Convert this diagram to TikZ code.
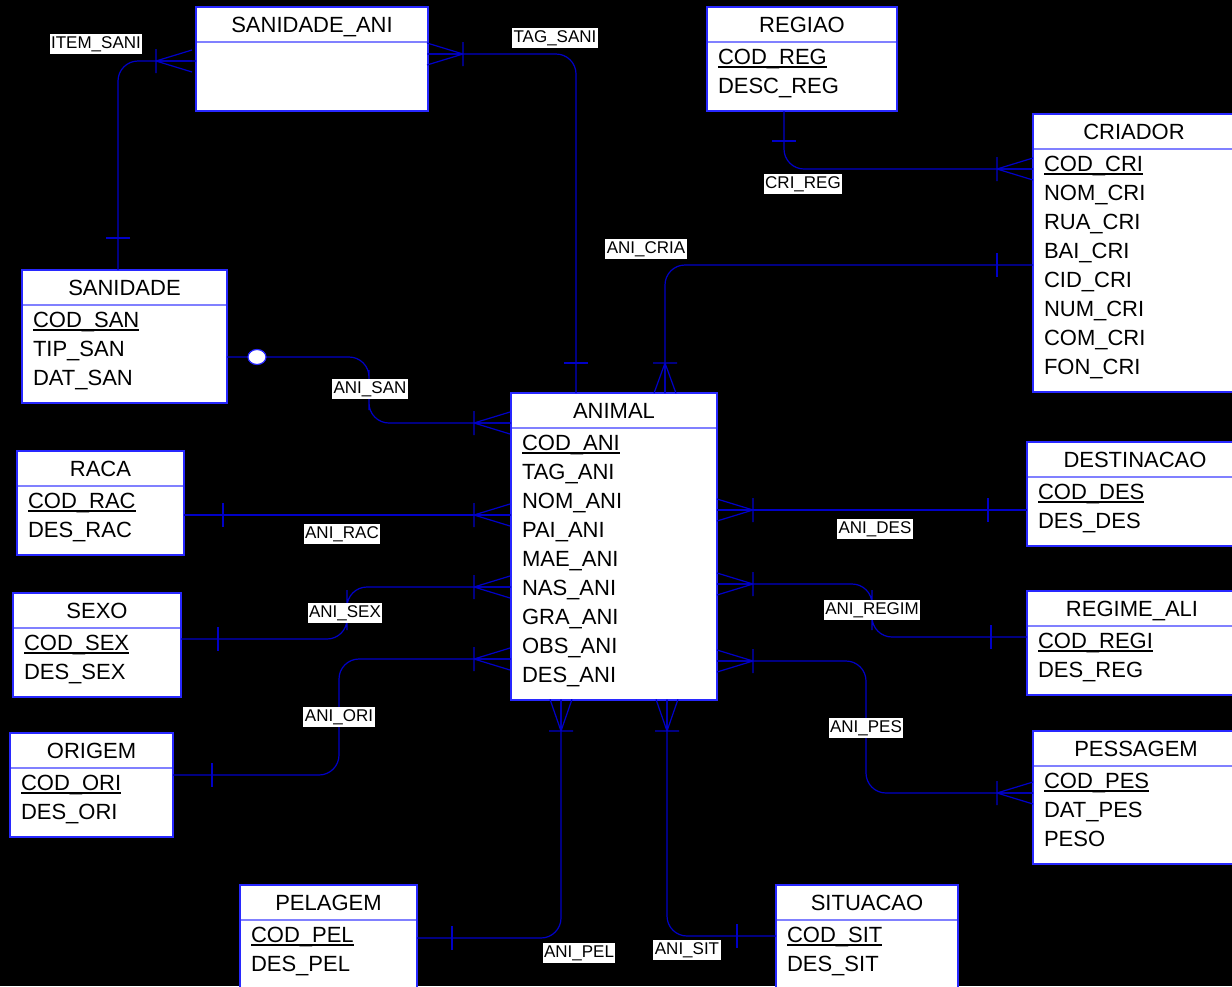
\documentclass[tikz,border=0pt]{standalone}
\usepackage{fontspec}
\setmainfont{Liberation Sans}
\usetikzlibrary{positioning}
\definecolor{erblue}{RGB}{40,40,255}
\definecolor{sepblue}{RGB}{128,128,255}
\definecolor{linkblue}{RGB}{0,0,200}
\newcommand\pkey[1]{\rule{0pt}{22pt}\setbox0\hbox{#1}\rlap{\rule[-4pt]{\wd0}{2.2pt}}\box0}
\newcommand\lastattr[1]{#1\rule[-18pt]{0pt}{18pt}}
\tikzset{
  crowfoot/.pic={\draw[link] (0,0) -- (36,-11) (0,0) -- (36,0) (0,0) -- (36,11) (0,-12) -- (0,12);},
  onebar/.pic={\draw[link] (0,-12) -- (0,12);}
}

\begin{document}
\begin{tikzpicture}[x=1pt, y=-1pt,
  every node/.style={font=\fontsize{22}{29}\selectfont},
  enthead/.style={rectangle, draw=erblue, fill=white, line width=1.6pt, outer sep=0pt,
                  inner sep=0pt, text height=16pt, text depth=0pt, minimum height=35pt, anchor=north west},
  entbody/.style={rectangle, draw=erblue, fill=white, line width=1.6pt, outer sep=0pt,
                  inner xsep=11pt, inner ysep=0pt, align=left},
  relname/.style={fill=white, text=black, font=\fontsize{17}{20}\selectfont,
                  inner xsep=1.5pt, inner ysep=2pt, text height=12pt, text depth=4pt},
  link/.style={draw=linkblue, line width=1.2pt, rounded corners=20pt},
  sepline/.style={draw=sepblue, line width=1.6pt}
]
  \path[use as bounding box, fill=black] (0,0) rectangle (1232,986);
  \clip (0,0) rectangle (1232,986);

  % entities
  \node[enthead, minimum width=232pt] (sanidadeani) at (196,7) {SANIDADE\_ANI};
  \node[entbody, text width=210pt, minimum height=69pt, below=0pt of sanidadeani] (sanidadeani-b) {};
  \node[enthead, minimum width=190pt] (regiao) at (707,7) {REGIAO};
  \node[entbody, text width=168pt, below=0pt of regiao] (regiao-b) {\pkey{COD\_REG}\\\lastattr{DESC\_REG}};
  \node[enthead, minimum width=202pt] (criador) at (1033,114) {CRIADOR};
  \node[entbody, text width=180pt, below=0pt of criador] (criador-b)
    {\pkey{COD\_CRI}\\NOM\_CRI\\RUA\_CRI\\BAI\_CRI\\CID\_CRI\\NUM\_CRI\\COM\_CRI\\\lastattr{FON\_CRI}};
  \node[enthead, minimum width=205pt] (sanidade) at (22,270) {SANIDADE};
  \node[entbody, text width=183pt, below=0pt of sanidade] (sanidade-b) {\pkey{COD\_SAN}\\TIP\_SAN\\\lastattr{DAT\_SAN}};
  \node[enthead, minimum width=206pt] (animal) at (511,393) {ANIMAL};
  \node[entbody, text width=184pt, below=0pt of animal] (animal-b)
    {\pkey{COD\_ANI}\\TAG\_ANI\\NOM\_ANI\\PAI\_ANI\\MAE\_ANI\\NAS\_ANI\\GRA\_ANI\\OBS\_ANI\\\lastattr{DES\_ANI}};
  \node[enthead, minimum width=167pt] (raca) at (17,451) {RACA};
  \node[entbody, text width=145pt, below=0pt of raca] (raca-b) {\pkey{COD\_RAC}\\\lastattr{DES\_RAC}};
  \node[enthead, minimum width=216pt] (destinacao) at (1027,442) {DESTINACAO};
  \node[entbody, text width=194pt, below=0pt of destinacao] (destinacao-b) {\pkey{COD\_DES}\\\lastattr{DES\_DES}};
  \node[enthead, minimum width=168pt] (sexo) at (13,593) {SEXO};
  \node[entbody, text width=146pt, below=0pt of sexo] (sexo-b) {\pkey{COD\_SEX}\\\lastattr{DES\_SEX}};
  \node[enthead, minimum width=210pt] (regimeali) at (1027,591) {REGIME\_ALI};
  \node[entbody, text width=188pt, below=0pt of regimeali] (regimeali-b) {\pkey{COD\_REGI}\\\lastattr{DES\_REG}};
  \node[enthead, minimum width=163pt] (origem) at (10,733) {ORIGEM};
  \node[entbody, text width=141pt, below=0pt of origem] (origem-b) {\pkey{COD\_ORI}\\\lastattr{DES\_ORI}};
  \node[enthead, minimum width=206pt] (pessagem) at (1033,731) {PESSAGEM};
  \node[entbody, text width=184pt, below=0pt of pessagem] (pessagem-b) {\pkey{COD\_PES}\\DAT\_PES\\\lastattr{PESO}};
  \node[enthead, minimum width=177pt] (pelagem) at (240,885) {PELAGEM};
  \node[entbody, text width=155pt, below=0pt of pelagem] (pelagem-b) {\pkey{COD\_PEL}\\\lastattr{DES\_PEL}};
  \node[enthead, minimum width=182pt] (situacao) at (776,885) {SITUACAO};
  \node[entbody, text width=160pt, below=0pt of situacao] (situacao-b) {\pkey{COD\_SIT}\\\lastattr{DES\_SIT}};

  \foreach \e in {sanidadeani,regiao,criador,sanidade,animal,raca,destinacao,sexo,regimeali,origem,pessagem,pelagem,situacao}
    \draw[sepline] ([xshift=0.8pt]\e.south west) -- ([xshift=-0.8pt]\e.south east);

  % relationships
  \draw[link] (sanidadeani-b.west |- 0,61) -| (sanidade.north -| 118,0);
  \pic at (156,61) {crowfoot};
  \pic[rotate=90] at (118,238) {onebar};

  \draw[link] (sanidadeani-b.east |- 0,54) -| (animal.north -| 576,0);
  \pic[rotate=180] at (463,54) {crowfoot};
  \pic[rotate=90] at (576,363) {onebar};

  \draw[link] (regiao-b.south -| 784,0) |- (criador-b.west |- 0,169);
  \pic[rotate=90] at (784,141) {onebar};
  \pic at (997,169) {crowfoot};

  \draw[link] (criador-b.west |- 0,265) -| (animal.north -| 665,0);
  \pic at (997,265) {onebar};
  \pic[rotate=-90, xscale=0.84] at (665,363) {crowfoot};

  \draw[link] (sanidade-b.east |- 0,357) -| (369,390) |- (animal.west |- 0,423);
  \draw[draw=erblue, fill=white, line width=1.2pt] (257,357) ellipse [x radius=9, y radius=7.5];
  \pic at (474,423) {crowfoot};

  \draw[link] (raca-b.east |- 0,515) -- (animal-b.west |- 0,515);
  \pic at (223,515) {onebar};
  \pic at (474,515) {crowfoot};

  \draw[link] (sexo-b.east |- 0,639) -| (347,610) |- (animal-b.west |- 0,587);
  \pic at (218,639) {onebar};
  \pic at (474,587) {crowfoot};

  \draw[link] (origem-b.east |- 0,775) -| (339,720) |- (animal-b.west |- 0,659);
  \pic at (212,775) {onebar};
  \pic at (474,659) {crowfoot};

  \draw[link] (animal-b.east |- 0,510) -- (destinacao-b.west |- 0,510);
  \pic[rotate=180] at (753,510) {crowfoot};
  \pic at (988,510) {onebar};

  \draw[link] (animal-b.east |- 0,584) -| (872,610) |- (regimeali-b.west |- 0,637);
  \pic[rotate=180] at (753,584) {crowfoot};
  \pic at (991,637) {onebar};

  \draw[link] (animal-b.east |- 0,661) -| (866,730) |- (pessagem-b.west |- 0,793);
  \pic[rotate=180] at (753,661) {crowfoot};
  \pic at (997,793) {crowfoot};

  \draw[link] (animal-b.south -| 561,0) |- (pelagem-b.east |- 0,938);
  \pic[rotate=90, xscale=0.88] at (561,731) {crowfoot};
  \pic at (452,938) {onebar};

  \draw[link] (animal-b.south -| 667,0) |- (situacao-b.west |- 0,936);
  \pic[rotate=90, xscale=0.88] at (667,731) {crowfoot};
  \pic at (737,936) {onebar};

  % relationship names
  \node[relname] (n-itemsani) at (96,44) {ITEM\_SANI};
  \node[relname] (n-tagsani) at (555,38) {TAG\_SANI};
  \node[relname] (n-crireg) at (803,184) {CRI\_REG};
  \node[relname] (n-anicria) at (646,249) {ANI\_CRIA};
  \node[relname] (n-anisan) at (370,389) {ANI\_SAN};
  \node[relname] (n-anirac) at (342,534) {ANI\_RAC};
  \node[relname] (n-anisex) at (345,613) {ANI\_SEX};
  \node[relname] (n-aniori) at (339,717) {ANI\_ORI};
  \node[relname] (n-anides) at (875,529) {ANI\_DES};
  \node[relname] (n-aniregim) at (872,610) {ANI\_REGIM};
  \node[relname] (n-anipes) at (866,728) {ANI\_PES};
  \node[relname] (n-anipel) at (579,953) {ANI\_PEL};
  \node[relname] (n-anisit) at (687,950) {ANI\_SIT};
\end{tikzpicture}
\end{document}
